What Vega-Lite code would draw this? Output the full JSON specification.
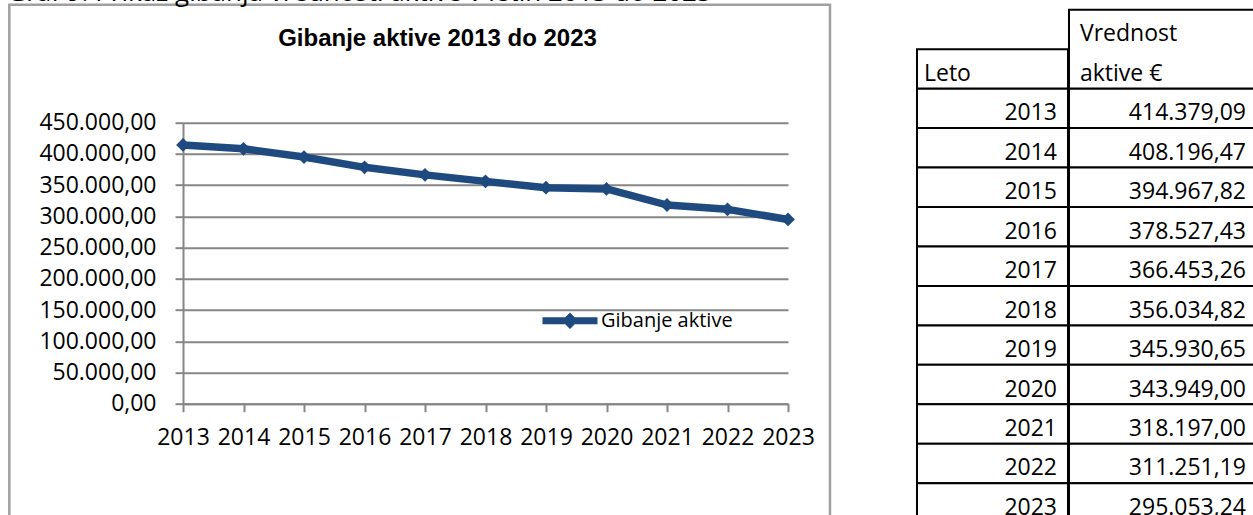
{
  "$schema": "https://vega.github.io/schema/vega-lite/v6.json",
  "padding": {"left": 7, "top": -21.3, "right": 0, "bottom": 0},
  "background": "white",
  "config": {
    "locale": {"number": {"decimal": ",", "thousands": ".", "grouping": [3], "currency": ["", " €"]}},
    "view": {"stroke": null},
    "font": "Open Sans"
  },
  "datasets": {
    "aktiva": [
      {"Leto": 2013, "Vrednost": 414379.09},
      {"Leto": 2014, "Vrednost": 408196.47},
      {"Leto": 2015, "Vrednost": 394967.82},
      {"Leto": 2016, "Vrednost": 378527.43},
      {"Leto": 2017, "Vrednost": 366453.26},
      {"Leto": 2018, "Vrednost": 356034.82},
      {"Leto": 2019, "Vrednost": 345930.65},
      {"Leto": 2020, "Vrednost": 343949.00},
      {"Leto": 2021, "Vrednost": 318197.00},
      {"Leto": 2022, "Vrednost": 311251.19},
      {"Leto": 2023, "Vrednost": 295053.24}
    ]
  },
  "spacing": 84,
  "hconcat": [
    {
      "width": 605,
      "height": 281,
      "title": {
        "text": "Gibanje aktive 2013 do 2023",
        "frame": "group",
        "anchor": "middle",
        "dx": -48,
        "offset": -71,
        "font": "Liberation Sans",
        "fontSize": 24,
        "fontWeight": "bold",
        "color": "black"
      },
      "data": {"name": "aktiva"},
      "layer": [
        {
          "data": {"values": [{}]},
          "mark": {"type": "rect", "fill": null, "stroke": "#A0A0A0", "strokeWidth": 2.5, "clip": false},
          "encoding": {
            "x": {
              "datum": 2010.129, "type": "quantitative",
              "scale": {"domain": [2013, 2023], "nice": false, "zero": false},
              "axis": {
                "values": [2013, 2014, 2015, 2016, 2017, 2018, 2019, 2020, 2021, 2022, 2023],
                "tickCount": 30,
                "format": "d", "title": null, "grid": false,
                "labelFont": "Open Sans", "labelFontSize": 23, "labelColor": "black",
                "labelPadding": 15, "labelFlush": false, "labelOverlap": false,
                "tickSize": 8, "tickWidth": 2, "tickColor": "#868686",
                "domainColor": "#868686", "domainWidth": 2
              }
            },
            "x2": {"datum": 2023.694},
            "y": {
              "datum": 638968, "type": "quantitative",
              "scale": {"domain": [0, 450000], "nice": false, "zero": true},
              "axis": {
                "values": [0, 50000, 100000, 150000, 200000, 250000, 300000, 350000, 400000, 450000],
                "tickCount": 30,
                "format": ",.2f", "title": null, "grid": true,
                "gridColor": "#868686", "gridWidth": 2,
                "labelFont": "Open Sans", "labelFontSize": 23, "labelColor": "black",
                "labelPadding": 19, "labelFlush": false, "labelOverlap": false,
                "tickSize": 8, "tickWidth": 2, "tickColor": "#868686",
                "domainColor": "#868686", "domainWidth": 2
              }
            },
            "y2": {"datum": -200000}
          }
        },
        {
          "data": {"values": [{"napis": "Graf 9: Prikaz gibanja vrednosti aktive v letih 2013 do 2023"}]},
          "mark": {"type": "text", "align": "left", "baseline": "alphabetic", "font": "Open Sans", "fontSize": 26, "color": "black", "clip": false},
          "encoding": {
            "x": {"datum": 2010.096, "type": "quantitative"},
            "y": {"datum": 645374, "type": "quantitative"},
            "text": {"field": "napis", "type": "nominal"}
          }
        },
        {
          "mark": {"type": "line", "strokeWidth": 7.5, "strokeJoin": "round"},
          "encoding": {
            "x": {"field": "Leto", "type": "quantitative"},
            "y": {"field": "Vrednost", "type": "quantitative"},
            "color": {
              "datum": "Gibanje aktive",
              "scale": {"range": ["#1F4A80"]},
              "legend": {
                "orient": "none", "legendX": 356, "legendY": 167,
                "title": null, "padding": 0,
                "symbolType": "M-1,0L1,0M0,-0.12L0.12,0L0,0.12L-0.12,0Z",
                "symbolSize": 3025, "symbolStrokeWidth": 7,
                "symbolStrokeColor": "#1F4A80", "symbolFillColor": "#1F4A80",
                "labelFont": "Open Sans", "labelFontSize": 20, "labelColor": "black",
                "labelOffset": 0
              }
            }
          }
        },
        {
          "mark": {"type": "point", "shape": "diamond", "filled": true, "size": 190, "opacity": 1},
          "encoding": {
            "x": {"field": "Leto", "type": "quantitative"},
            "y": {"field": "Vrednost", "type": "quantitative"},
            "color": {"datum": "Gibanje aktive"}
          }
        }
      ]
    },
    {
      "spacing": -2,
      "hconcat": [
        {
          "width": 151,
          "height": 281,
          "data": {"name": "aktiva"},
          "layer": [
            {
              "mark": {"type": "rect", "fill": "white", "stroke": "black", "strokeWidth": 2},
              "encoding": {
                "y": {
                  "field": "Leto", "type": "ordinal",
                  "scale": {
                    "type": "band",
                    "domain": ["Vrednost", "Leto", 2013, 2014, 2015, 2016, 2017, 2018, 2019, 2020, 2021, 2022, 2023],
                    "range": [-113, 400],
                    "paddingInner": 0, "paddingOuter": 0
                  },
                  "axis": null
                }
              }
            },
            {
              "data": {"values": [{}]},
              "mark": {"type": "rect", "fill": "white", "stroke": "black", "strokeWidth": 2},
              "encoding": {"y": {"datum": "Leto", "type": "ordinal"}}
            },
            {
              "mark": {"type": "text", "align": "right", "baseline": "alphabetic", "dx": -11, "dy": 12, "font": "Open Sans", "fontSize": 23, "color": "black"},
              "encoding": {
                "y": {"field": "Leto", "type": "ordinal"},
                "x": {"value": "width"},
                "text": {"field": "Leto", "type": "ordinal"}
              }
            },
            {
              "data": {"values": [{}]},
              "mark": {"type": "text", "align": "left", "baseline": "alphabetic", "dx": 7, "dy": 12, "font": "Open Sans", "fontSize": 23, "color": "black"},
              "encoding": {
                "y": {"datum": "Leto", "type": "ordinal"},
                "x": {"value": 0},
                "text": {"value": "Leto"}
              }
            }
          ]
        },
        {
          "width": 188,
          "height": 281,
          "data": {"name": "aktiva"},
          "layer": [
            {
              "mark": {"type": "rect", "fill": "white", "stroke": "black", "strokeWidth": 2},
              "encoding": {
                "y": {
                  "field": "Leto", "type": "ordinal",
                  "scale": {
                    "type": "band",
                    "domain": ["Vrednost", "Leto", 2013, 2014, 2015, 2016, 2017, 2018, 2019, 2020, 2021, 2022, 2023],
                    "range": [-113, 400],
                    "paddingInner": 0, "paddingOuter": 0
                  },
                  "axis": null
                }
              }
            },
            {
              "data": {"values": [{}]},
              "mark": {"type": "rect", "fill": "white", "stroke": "black", "strokeWidth": 2},
              "encoding": {
                "y": {"datum": "Vrednost", "type": "ordinal", "bandPosition": 0},
                "y2": {"datum": "Leto", "bandPosition": 1}
              }
            },
            {
              "mark": {"type": "text", "align": "right", "baseline": "alphabetic", "dx": -11, "dy": 12, "font": "Open Sans", "fontSize": 23, "color": "black"},
              "encoding": {
                "y": {"field": "Leto", "type": "ordinal"},
                "x": {"value": "width"},
                "text": {"field": "Vrednost", "type": "quantitative", "format": ",.2f"}
              }
            },
            {
              "data": {"values": [{"t": "Vrednost", "r": "Vrednost"}, {"t": "aktive €", "r": "Leto"}]},
              "mark": {"type": "text", "align": "left", "baseline": "alphabetic", "dx": 11, "dy": 12, "font": "Open Sans", "fontSize": 23, "color": "black"},
              "encoding": {
                "y": {"field": "r", "type": "ordinal"},
                "x": {"value": 0},
                "text": {"field": "t", "type": "nominal"}
              }
            }
          ]
        }
      ]
    }
  ]
}
